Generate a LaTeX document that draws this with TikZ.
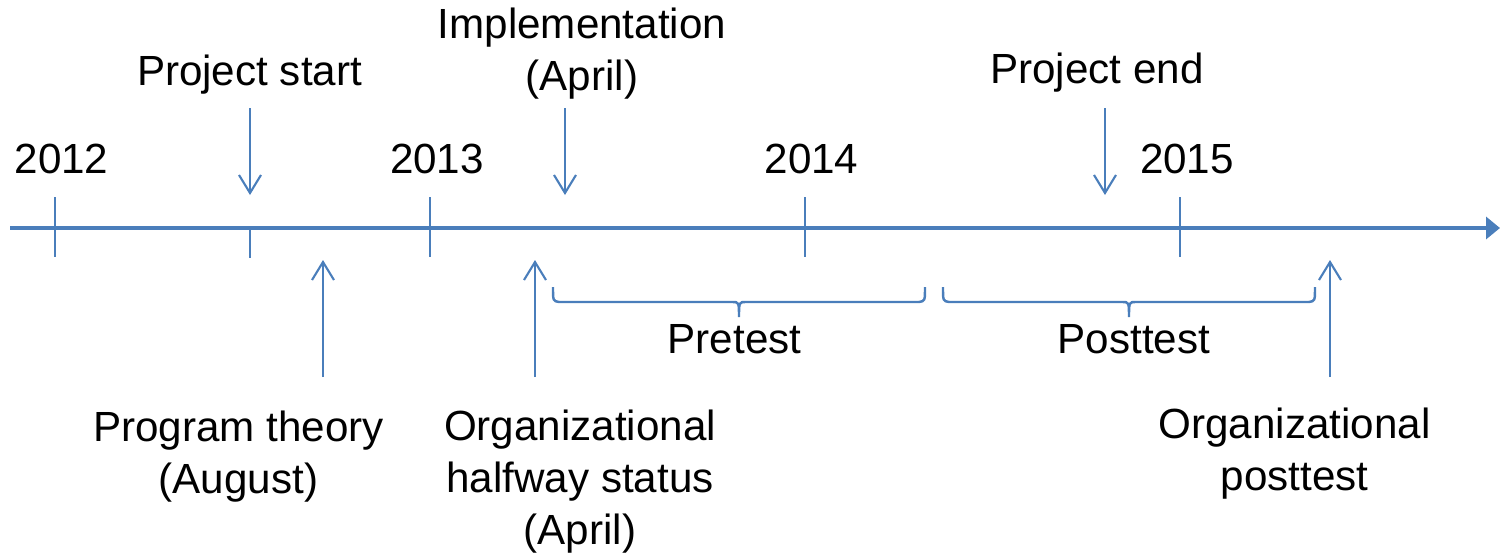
\documentclass[tikz,border=0pt]{standalone}
\usepackage{fontspec}
\setmainfont{Liberation Sans}
\usetikzlibrary{arrows.meta,calc}
\definecolor{lineblue}{RGB}{74,126,187}

\begin{document}
\begin{tikzpicture}
  [every node/.style={font=\fontsize{12}{14.8}\selectfont,align=center,inner sep=0pt},
   evarrow/.style={draw=lineblue,line width=0.6pt,-{Straight Barb[length=1.8mm,width=2.2mm]}},
   tick/.style={draw=lineblue,line width=0.6pt},
   brc/.style={draw=lineblue,line width=0.7pt}]
  \useasboundingbox (0,0) rectangle (15,5.56);
  % time axis
  \coordinate (axisL) at (0.10,3.28);
  \coordinate (axisR) at (15.0,3.28);
  \draw[draw=lineblue,line width=1.2pt,-{Triangle[length=1.4mm,width=2.2mm]}] (axisL) -- (axisR);
  \foreach \x in {0.55,4.30,8.05,11.80}
    \draw[tick] (\x,3.59) -- (\x,2.99);
  \draw[tick] (2.50,3.28) -- (2.50,2.98);
  % years
  \node (y2012) at (0.615,3.97) {2012};
  \node (y2013) at (4.37,3.97) {2013};
  \node (y2014) at (8.115,3.97) {2014};
  \node (y2015) at (11.87,3.97) {2015};
  % events above
  \node (start) at (2.495,4.81) {Project start};
  \node (impl) at (5.82,5.02) {Implementation\\(April)};
  \node (projend) at (10.97,4.83) {Project end};
  % events below
  \node (theory) at (2.385,0.99) {Program theory\\(August)};
  \node (halfway) at (5.80,0.74) {Organizational\\halfway status\\(April)};
  \node (orgpost) at (12.945,1.02) {Organizational\\posttest};
  % test periods
  \node (pretest) at (7.345,2.17) {Pretest};
  \node (posttest) at (11.34,2.17) {Posttest};

  \coordinate (startTop) at (2.50,4.48);
  \coordinate (startTip) at (2.50,3.61);
  \coordinate (implTop) at (5.65,4.48);
  \coordinate (implTip) at (5.65,3.61);
  \coordinate (endTop) at (11.05,4.48);
  \coordinate (endTip) at (11.05,3.61);
  \coordinate (theoryFoot) at (3.23,1.79);
  \coordinate (theoryTip) at (3.23,2.96);
  \coordinate (halfFoot) at (5.35,1.79);
  \coordinate (halfTip) at (5.35,2.96);
  \coordinate (postFoot) at (13.30,1.79);
  \coordinate (postTip) at (13.30,2.96);
  \coordinate (preL) at (5.53,2.69);
  \coordinate (preR) at (9.25,2.69);
  \coordinate (postL) at (9.43,2.69);
  \coordinate (postR) at (13.15,2.69);
  \coordinate (preM) at ($(preL)!0.5!(preR)$);
  \coordinate (postM) at ($(postL)!0.5!(postR)$);

  \foreach \from/\to in {startTop/startTip,implTop/implTip,endTop/endTip,
              theoryFoot/theoryTip,halfFoot/halfTip,postFoot/postTip}
    \draw[evarrow] (\from) -- (\to);
  % braces
  \foreach \l/\m/\r in {preL/preM/preR,postL/postM/postR}
    \draw[brc] (\l) .. controls ($(\l)+(0,-0.14)$) .. ($(\l)+(0.06,-0.15)$)
      -- ($(\m)+(-0.07,-0.15)$) .. controls ($(\m)+(0,-0.15)$) .. ($(\m)+(0,-0.30)$)
      .. controls ($(\m)+(0,-0.15)$) .. ($(\m)+(0.07,-0.15)$)
      -- ($(\r)+(-0.06,-0.15)$) .. controls ($(\r)+(0,-0.14)$) .. (\r);

\end{tikzpicture}
\end{document}
